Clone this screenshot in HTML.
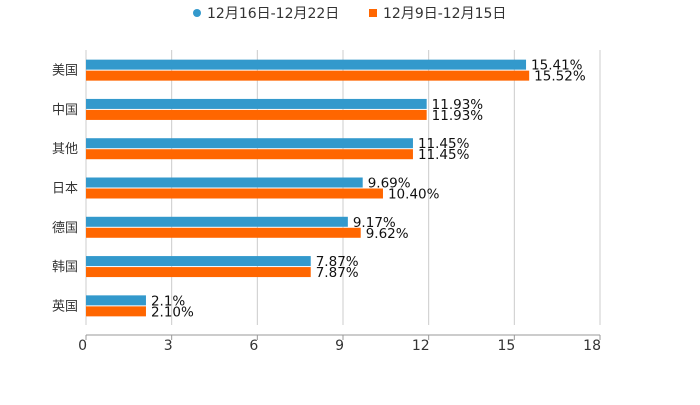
<!DOCTYPE html>
<html><head><meta charset="utf-8"><style>
body{margin:0;background:#fff;}
text{font-family:"DejaVu Sans","Noto Sans CJK SC",sans-serif;}
</style></head><body>
<svg id="c" width="700" height="400">
<g>
<circle cx="197" cy="13" r="4" fill="#3399cc"/>
<text x="207" y="18" font-size="14" fill="#333">12月16日-12月22日</text>
<rect x="369" y="9" width="8" height="8" fill="#ff6600"/>
<text x="383" y="18" font-size="14" fill="#333">12月9日-12月15日</text>
</g>
</svg>
<script>
const categories=["美国","中国","其他","日本","德国","韩国","英国"];
const seriesA=[15.41,11.93,11.45,9.69,9.17,7.87,2.1];
const seriesALabels=["15.41%","11.93%","11.45%","9.69%","9.17%","7.87%","2.1%"];
const seriesB=[15.52,11.93,11.45,10.40,9.62,7.87,2.10];
const seriesBLabels=["15.52%","11.93%","11.45%","10.40%","9.62%","7.87%","2.10%"];
const ticks=[0,3,6,9,12,15,18];
const NS="http://www.w3.org/2000/svg";
const svg=document.getElementById('c');
const x0=86,x1=600,xmax=18,plotTop=50,plotBottom=325,axisY=335;
const xs=v=>x0+v/xmax*(x1-x0);
const step=(plotBottom-plotTop)/categories.length;
function mk(t,a){const e=document.createElementNS(NS,t);for(const k in a)e.setAttribute(k,a[k]);svg.appendChild(e);return e;}
ticks.forEach(t=>{
  const g=mk('line',{x1:xs(t),x2:xs(t),y1:plotTop,y2:plotBottom,stroke:'#ccc'});
  
  
  const tk=mk('line',{x1:xs(t),x2:xs(t),y1:axisY,y2:axisY+5,stroke:'#999'});
  
  
  const l=mk('text',{x:xs(t)+1,y:axisY+15,'font-size':14,fill:'#333','text-anchor':'end'});
  l.textContent=t;
  
  
});
const ax=mk('line',{x1:x0,x2:x1,y1:axisY,y2:axisY,stroke:'#999'});


categories.forEach((c,i)=>{
  const cy=plotTop+step*(i+0.5);
  const l=mk('text',{x:78,y:cy+5,'font-size':13,fill:'#333','text-anchor':'end'});
  l.textContent=c;
  
  
  const a=mk('rect',{x:x0,y:cy-10,width:xs(seriesA[i])-x0,height:10,fill:'#3399cc'});
  
  
  const b=mk('rect',{x:x0,y:cy+1,width:xs(seriesB[i])-x0,height:10,fill:'#ff6600'});
  
  
  const ta=mk('text',{x:xs(seriesA[i])+5,y:cy,'font-size':13.5,fill:'#111'});
  ta.textContent=seriesALabels[i];
  
  
  const tb=mk('text',{x:xs(seriesB[i])+5,y:cy+11,'font-size':13.5,fill:'#111'});
  tb.textContent=seriesBLabels[i];
  
  
});
</script>
</body></html>
